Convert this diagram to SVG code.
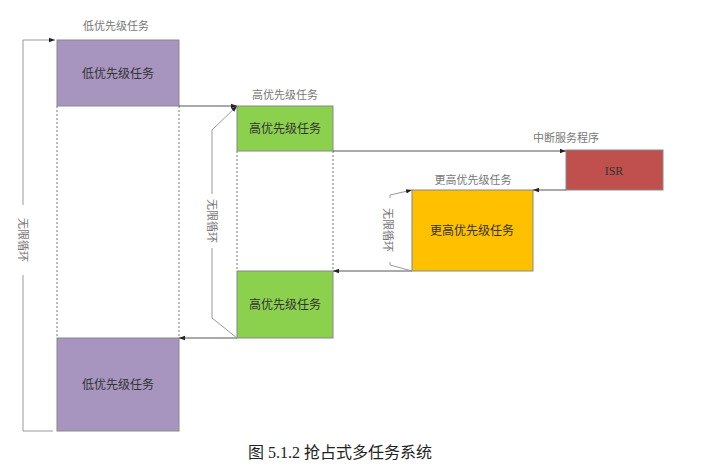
<svg xmlns="http://www.w3.org/2000/svg" width="704" height="468" viewBox="0 0 704 468">
<style>
.t{font-family:"Noto Sans CJK SC",sans-serif;font-size:12px;fill:#333;text-anchor:middle}
.l{font-family:"Noto Sans CJK SC",sans-serif;font-size:11px;fill:#777;text-anchor:middle}
.c{stroke:#555;stroke-width:1;fill:none}
.g{stroke:#999;stroke-width:1;fill:none}
.d{stroke:#777;stroke-width:1;stroke-dasharray:2,2;fill:none}
.b{stroke:#888;stroke-width:1}
</style>
<defs><marker id="a" viewBox="0 0 8 8" refX="8" refY="4" markerWidth="6" markerHeight="6" orient="auto"><path d="M0,1L8,4L0,7z" fill="#222"/></marker></defs>
<rect width="704" height="468" fill="#fff"/>
<g id="dashes">
<path class="d" d="M57,106V338M179,106V338M237,151V271M333,151V271"/>
</g>
<g id="low1"><rect class="b" x="57" y="40" width="122" height="66" fill="#a795bf"/><text class="t" x="118" y="78">低优先级任务</text><text class="l" x="116" y="30">低优先级任务</text></g>
<g id="high1"><rect class="b" x="237" y="106" width="96" height="45" fill="#8cd14e"/><text class="t" x="285" y="133">高优先级任务</text><text class="l" x="285" y="99">高优先级任务</text></g>
<g id="isr"><rect class="b" x="566" y="150" width="97" height="40" fill="#c0504d"/><text x="614" y="175" font-family="Liberation Serif,serif" font-size="12" fill="#333" text-anchor="middle">ISR</text><text class="l" x="566" y="142">中断服务程序</text></g>
<g id="higher"><rect class="b" x="412" y="190" width="121" height="81" fill="#ffc000"/><text class="t" x="472" y="235">更高优先级任务</text><text class="l" x="473" y="184">更高优先级任务</text></g>
<g id="high2"><rect class="b" x="237" y="271" width="96" height="67" fill="#8cd14e"/><text class="t" x="285" y="309">高优先级任务</text></g>
<g id="low2"><rect class="b" x="57" y="338" width="122" height="93" fill="#a795bf"/><text class="t" x="118" y="389">低优先级任务</text></g>
<g id="connectors">
<path class="c" d="M179,106H237" marker-end="url(#a)"/>
<path class="c" d="M333,151H566" marker-end="url(#a)"/>
<path class="c" d="M566,190H533" marker-end="url(#a)"/>
<path class="c" d="M412,271H333" marker-end="url(#a)"/>
<path class="c" d="M237,338H179" marker-end="url(#a)"/>
<path class="g" d="M53,431H23V275M23,205V40H55" marker-end="url(#a)"/>
<path class="g" d="M237,338L212,318V248M212,194V130L237,106" marker-end="url(#a)"/>
<path class="g" d="M412,271L390,265V262M390,198V195L412,190" marker-end="url(#a)"/>
<text class="l" transform="translate(23,240) rotate(90)" x="0" y="4" font-family="Liberation Serif,Noto Sans CJK SC,serif">无限循环</text>
<text class="l" transform="translate(212,221) rotate(90)" x="0" y="4">无限循环</text>
<text class="l" transform="translate(388,230) rotate(90)" x="0" y="4">无限循环</text>
</g>
<text x="340" y="458" font-family="Liberation Serif,Noto Sans CJK SC,serif" font-size="16" fill="#222" text-anchor="middle">图 5.1.2  抢占式多任务系统</text>
</svg>
